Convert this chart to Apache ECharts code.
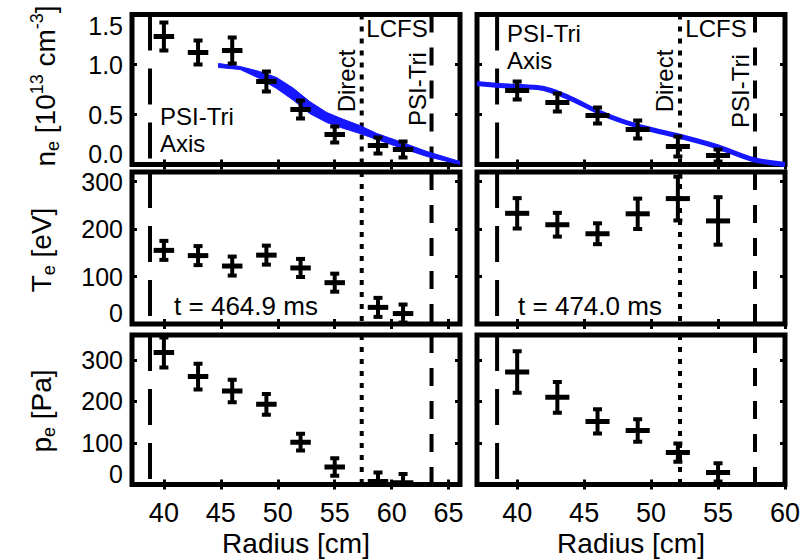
<!DOCTYPE html>
<html><head><meta charset="utf-8">
<script src="https://cdn.jsdelivr.net/npm/echarts@6/dist/echarts.min.js"></script>
<style>html,body{margin:0;padding:0;background:#fff}#c{width:805px;height:559px}</style>
</head><body><div id="c"></div>
<script>
// ---------------- data ----------------
const radiusL = [40, 43, 46, 49, 52, 55, 58.8, 61];
const radiusR = [40, 43, 46, 49, 52, 55];
const radiusErr = 0.9;

const neL    = [1.28, 1.12, 1.14, 0.83, 0.55, 0.30, 0.19, 0.15];
const neErrL = [0.14, 0.12, 0.13, 0.10, 0.09, 0.08, 0.08, 0.08];
const neR    = [0.74, 0.62, 0.49, 0.35, 0.18, 0.09];
const neErrR = [0.09, 0.09, 0.08, 0.09, 0.10, 0.06];

const teL    = [155, 144, 122, 145, 118, 87, 35, 22];
const teErrL = [20, 20, 20, 20, 19, 19, 20, 19];
const teR    = [233, 209, 190, 232, 264, 217];
const teErrR = [32, 25, 22, 32, 46, 50];

const peL    = [318, 260, 225, 193, 102, 42, 7, 4];
const peErrL = [36, 31, 27, 25, 20, 21, 22, 21];
const peR    = [271, 210, 152, 130, 77, 29];
const peErrR = [50, 37, 29, 27, 22, 22];

// blue density profile (left: band, right: line)
const fitXL  = [44.8, 46.7, 48.4, 49.9, 51.4, 52.8, 54.3, 55.8, 57.2, 58.7, 60.7, 63.1, 66.0];
const fitHiL = [1.01, 0.98, 0.93, 0.87, 0.76, 0.63, 0.52, 0.45, 0.39, 0.31, 0.23, 0.13, 0.03];
const fitLoL = [0.97, 0.95, 0.86, 0.76, 0.64, 0.51, 0.42, 0.36, 0.31, 0.25, 0.17, 0.08, 0.00];
const fitXR  = [37, 38.7, 41.5, 42.5, 44, 46, 47.7, 49.7, 52.2, 54.9, 57.6, 60];
const fitYR  = [0.81, 0.79, 0.77, 0.74, 0.66, 0.53, 0.44, 0.36, 0.28, 0.18, 0.05, 0.0];

// vertical reference radii [left column, right column]
const psiAxisR = [38.78, 38.5];
const lcfsR    = [57.37, 52.16];
const psiEdgeR = [63.5, 57.76];

// tick labels
const xTicksL = [40, 45, 50, 55, 60, 65];
const xTicksR = [40, 45, 50, 55, 60];
const neTicks = [0, 0.5, 1.0, 1.5];
const teTicks = [0, 100, 200, 300];
const peTicks = [0, 100, 200, 300];

// ---------------- chart ----------------
const FF = '"Liberation Sans", Arial, Helvetica, sans-serif';
const BLUE = '#1616ff';

const cols = [
  {left: 132, width: 328, min: 37.2, max: 66, ticks: xTicksL},
  {left: 477, width: 308, min: 37, max: 60, ticks: xTicksR}
];
const rows = [
  {top: 14.5, height: 150, min: 0, max: 1.5, ticks: neTicks, fmt: v => v.toFixed(1), nudgeMax: true},
  {top: 172, height: 152, min: 0, max: 320, ticks: teTicks, fmt: v => String(v), nudgeMax: false},
  {top: 335, height: 149.5, min: 0, max: 360, ticks: peTicks, fmt: v => String(v), nudgeMax: false}
];
const panelData = [
  [[radiusL, neL, neErrL], [radiusR, neR, neErrR]],
  [[radiusL, teL, teErrL], [radiusR, teR, teErrR]],
  [[radiusL, peL, peErrL], [radiusR, peR, peErrR]]
];

function errRender(params, api) {
  const x = api.value(0), y = api.value(1), ey = api.value(2), ex = api.value(3);
  const c = api.coord([x, y]);
  const t = api.coord([x, y + ey]);
  const b = api.coord([x, y - ey]);
  const l = api.coord([x - ex, y]);
  const r = api.coord([x + ex, y]);
  const cap = 4.5;
  const st = {stroke: '#000', lineWidth: 4, fill: null};
  return {type: 'group', children: [
    {type: 'line', shape: {x1: c[0], y1: t[1], x2: c[0], y2: b[1]}, style: st},
    {type: 'line', shape: {x1: c[0] - cap, y1: t[1], x2: c[0] + cap, y2: t[1]}, style: st},
    {type: 'line', shape: {x1: c[0] - cap, y1: b[1], x2: c[0] + cap, y2: b[1]}, style: st},
    {type: 'line', shape: {x1: l[0], y1: c[1], x2: r[0], y2: c[1]}, style: {stroke: '#000', lineWidth: 5, fill: null}}
  ]};
}

function bandRender(params, api) {
  if (params.dataIndex !== 0) return null;
  const pts = [];
  for (let i = 0; i < fitXL.length; i++) pts.push(api.coord([fitXL[i], fitHiL[i]]));
  for (let i = fitXL.length - 1; i >= 0; i--) pts.push(api.coord([fitXL[i], fitLoL[i]]));
  return {type: 'polygon', shape: {points: pts}, style: {fill: BLUE, stroke: BLUE, lineWidth: 1}};
}

const grid = [], xAxis = [], yAxis = [], series = [];
const tickStyle = {show: true, inside: true, length: 5, lineStyle: {color: '#000', width: 3}};

rows.forEach((row, ri) => {
  cols.forEach((col, ci) => {
    const g = grid.length;
    grid.push({left: col.left, width: col.width, top: row.top, height: row.height,
      show: true, borderColor: '#000', borderWidth: 5, backgroundColor: 'transparent',
      containLabel: false, outerBoundsMode: 'none'});
    const isBottom = ri === 2;
    xAxis.push({type: 'value', gridIndex: g, min: col.min, max: col.max, position: 'bottom',
      axisLine: {show: false}, splitLine: {show: false},
      axisTick: Object.assign({customValues: col.ticks}, tickStyle),
      axisLabel: {show: isBottom, customValues: col.ticks, color: '#000', fontSize: 27, fontFamily: FF, margin: 15}});
    xAxis.push({type: 'value', gridIndex: g, min: col.min, max: col.max, position: 'top',
      axisLine: {show: false}, splitLine: {show: false},
      axisTick: Object.assign({customValues: col.ticks}, tickStyle),
      axisLabel: {show: false}});
    yAxis.push({type: 'value', gridIndex: g, min: row.min, max: row.max, position: 'left',
      axisLine: {show: false}, splitLine: {show: false},
      axisTick: Object.assign({customValues: row.ticks}, tickStyle),
      axisLabel: {show: ci === 0, customValues: row.ticks, color: '#000', fontSize: 25, fontFamily: FF, margin: 9,
        lineHeight: 22, formatter: v => row.fmt(v),
        verticalAlignMinLabel: 'bottom',
        verticalAlignMaxLabel: row.nudgeMax ? 'top' : 'middle'}});
    yAxis.push({type: 'value', gridIndex: g, min: row.min, max: row.max, position: 'right',
      axisLine: {show: false}, splitLine: {show: false},
      axisTick: Object.assign({customValues: row.ticks}, tickStyle),
      axisLabel: {show: false}});

    const xi = 2 * g, yi = 2 * g;
    // vertical reference lines
    const vline = (xv, type) => ({type: 'line', xAxisIndex: xi, yAxisIndex: yi, silent: true, symbol: 'none', z: 1,
      data: [[xv, row.max], [xv, row.min]], lineStyle: {color: '#000', width: 4, type: type, cap: 'butt'}, animation: false});
    series.push(vline(psiAxisR[ci], [36, 18]));
    series.push(vline(lcfsR[ci], [5, 7]));
    series.push(vline(psiEdgeR[ci], [18, 15]));

    // blue profile
    if (ri === 0 && ci === 0) {
      series.push({type: 'custom', xAxisIndex: xi, yAxisIndex: yi, clip: true, silent: true, z: 2,
        renderItem: bandRender, data: fitXL.map((x, i) => [x, fitLoL[i], fitHiL[i]])});
    }
    if (ri === 0 && ci === 1) {
      series.push({type: 'line', xAxisIndex: xi, yAxisIndex: yi, symbol: 'none', silent: true, z: 2, smooth: 0.3,
        data: fitXR.map((x, i) => [x, fitYR[i]]), lineStyle: {color: BLUE, width: 5}});
    }

    // error-bar points
    const [xs, ys, es] = panelData[ri][ci];
    series.push({type: 'custom', xAxisIndex: xi, yAxisIndex: yi, clip: true, z: 3, silent: true,
      renderItem: errRender, data: xs.map((x, i) => [x, ys[i], es[i], radiusErr])});
  });
});

function txt(x, y, text, size, rot, align, extra) {
  return {type: 'text', x: x, y: y, rotation: rot ? rot * Math.PI / 180 : 0, silent: true, z: 10,
    style: Object.assign({text: text, fontSize: size, fontFamily: FF, fill: '#000',
      align: align || 'center', verticalAlign: 'middle', textAlign: align || 'center', textVerticalAlign: 'middle'}, extra || {})};
}
const richAxis = {
  m: {fontSize: 28, fontFamily: FF, color: '#000', lineHeight: 34},
  s: {fontSize: 18, fontFamily: FF, color: '#000', verticalAlign: 'bottom', lineHeight: 20},
  p: {fontSize: 18, fontFamily: FF, color: '#000', verticalAlign: 'top', lineHeight: 20}
};
const LH = {lineHeight: 20};

const graphic = [
  txt(160, 116, 'PSI-Tri', 24, 0, 'left', LH),
  txt(160, 143, 'Axis', 24, 0, 'left', LH),
  txt(507, 33, 'PSI-Tri', 24, 0, 'left', LH),
  txt(507, 60, 'Axis', 24, 0, 'left', LH),
  txt(346, 81, 'Direct', 24, 90),
  txt(664, 81, 'Direct', 24, 90),
  txt(397, 28, 'LCFS', 24),
  txt(716, 28, 'LCFS', 24),
  txt(417, 89, 'PSI-Tri', 24, 90),
  txt(740, 91, 'PSI-Tri', 24, 90),
  txt(246, 306, 't = 464.9 ms', 26),
  txt(590, 306, 't = 474.0 ms', 26),
  txt(296, 543, 'Radius [cm]', 28),
  txt(631, 543, 'Radius [cm]', 28),
  txt(45, 86, '{m|n}{s|e}{m| [10}{p|13}{m| cm}{p|-3}{m|]}', 28, 90, 'center', {rich: richAxis}),
  txt(41, 250, '{m|T}{s|e}{m| [eV]}', 28, 90, 'center', {rich: richAxis}),
  txt(41, 411, '{m|p}{s|e}{m| [Pa]}', 28, 90, 'center', {rich: richAxis})
];

const chart = echarts.init(document.getElementById('c'), null, {renderer: 'svg', width: 805, height: 559});
chart.setOption({
  animation: false,
  backgroundColor: '#fff',
  textStyle: {fontFamily: FF},
  grid: grid, xAxis: xAxis, yAxis: yAxis, series: series, graphic: graphic
});
</script>
</body></html>
